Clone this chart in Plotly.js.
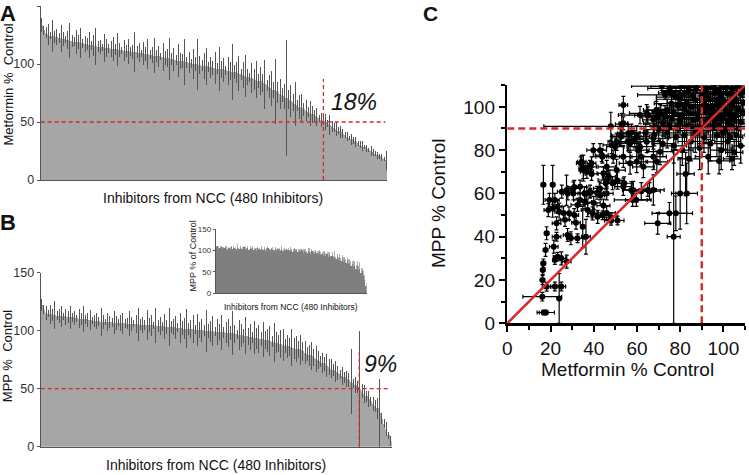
<!DOCTYPE html>
<html>
<head>
<meta charset="utf-8">
<script src="https://cdn.plot.ly/plotly-3.0.1.min.js"></script>
<style>
  html, body { margin: 0; padding: 0; background: #fff; }
  #chart { width: 749px; height: 475px; }
</style>
</head>
<body>
<div id="chart"></div>
<script>
// Panel A: metformin % control, sorted, 160 bars across the 480 inhibitors
const metforminPct = [
  134,129,127,125.5,124.5,124,123.5,123,122.5,122,
  121.5,121,120.6,120.2,119.8,119.4,119,118.6,118.2,117.8,
  117.4,117,116.6,116.2,115.8,115.4,115,114.7,114.4,114.1,
  113.8,113.5,113.2,112.9,112.6,112.3,112,111.7,111.4,111.1,
  110.9,110.7,110.6,110.5,110.1,109.8,109.4,109.0,108.7,108.3,
  107.9,107.6,107.2,106.8,106.5,106.1,105.7,105.4,105.0,104.6,
  104.2,103.8,103.4,103.0,102.6,102.2,101.8,101.4,101.0,100.6,
  100.2,99.8,99.4,99.0,98.6,98.2,97.9,97.5,97.1,96.8,
  96.4,96.0,95.6,95.3,94.9,94.5,94.1,93.8,93.4,93.0,
  92.3,91.7,91.0,90.3,89.7,89.0,88.3,87.7,87.0,86.3,
  85.7,85.0,83.8,82.6,81.5,80.3,79.1,77.9,76.7,75.5,
  74.4,73.2,72.0,70.7,69.4,68.1,66.9,65.6,64.3,63.0,
  61.9,60.8,59.7,58.6,57.5,56.5,55.4,54.3,53.2,52.1,
  51.0,49.8,48.6,47.4,46.2,45.0,43.8,42.5,41.3,40.0,
  38.8,37.5,36.3,35.0,33.9,32.8,31.6,30.5,29.4,28.3,
  27.1,26.0,24.9,23.8,22.6,21.5,20.4,19.3,18.1,17.0
];
const metforminErr = [
  6,4,5,9,3,14,5,7,4,12,6,3,8,15,5,4,10,6,13,4,
  7,5,11,4,9,16,5,6,3,12,8,4,7,10,5,14,6,3,9,5,
  11,4,6,17,5,8,3,10,6,13,4,7,15,5,9,3,12,6,8,18,
  5,10,4,14,7,6,20,5,9,4,13,6,22,8,5,11,16,4,9,6,
  14,5,19,7,10,4,12,8,24,6,9,15,5,11,18,7,4,13,9,16,
  6,12,8,21,5,10,15,7,28,9,13,6,11,50,8,14,7,19,5,10,
  12,6,9,4,11,7,5,8,3,6,4,7,3,9,5,4,6,3,5,4,
  3,4,2,5,3,4,2,3,4,2,3,2,4,3,2,3,2,3,2,8
];

// Panel B: MPP % control, sorted
const mppPct = [
  122,118,115.5,114.5,114,113.6,113.3,113,112.7,112.5,
  112.3,112.1,111.9,111.6,111.4,111.1,110.8,110.5,110.3,110.0,
  109.7,109.4,109.2,108.9,108.6,108.3,108.1,107.8,107.7,107.5,
  107.4,107.3,107.1,107.0,106.9,106.7,106.6,106.5,106.3,106.2,
  106.1,105.9,105.8,105.6,105.5,105.3,105.2,105.0,104.8,104.7,
  104.5,104.4,104.2,104.0,103.9,103.7,103.6,103.4,103.2,103.0,
  102.9,102.7,102.5,102.3,102.1,101.9,101.7,101.5,101.4,101.2,
  101.0,100.8,100.6,100.4,100.2,100.0,99.8,99.6,99.4,99.3,
  99.1,98.9,98.7,98.5,98.3,98.1,97.9,97.7,97.3,96.9,
  96.6,96.2,95.8,95.5,95.1,94.7,94.3,94.0,93.6,93.2,
  92.9,92.5,92.1,91.8,91.2,90.6,90.0,89.5,88.9,88.3,
  87.8,87.2,86.6,86.0,85.5,84.9,84.3,83.8,83.2,82.1,
  81.1,80.0,78.9,77.9,76.8,75.7,74.7,73.5,72.2,71.0,
  69.7,68.5,67.3,66.0,64.8,63.5,62.3,61.0,59.8,58.5,
  57.3,56.0,54.5,53.0,51.5,50.0,47.8,45.6,43.4,41.3,
  39.2,37.1,35.0,33.0,28.7,24.3,20.0,15.0,10.0,5.0
];
const mppErr = [
  5,4,6,3,8,5,12,4,6,9,3,7,5,10,4,6,3,8,5,11,
  4,6,9,3,5,7,4,12,6,3,8,5,4,10,6,3,7,9,4,5,
  11,6,3,8,14,5,7,4,13,6,9,3,15,5,8,4,11,6,16,5,
  7,10,4,13,6,9,17,5,8,12,4,14,7,10,5,18,6,9,13,4,
  11,7,15,5,9,12,6,19,8,4,13,10,6,16,7,11,5,14,9,12,
  6,15,8,10,13,5,17,9,7,12,14,6,10,8,16,9,11,7,13,8,
  10,6,9,12,7,11,8,5,9,6,10,7,8,5,9,6,4,8,5,7,
  6,28,4,7,5,50,6,8,5,7,4,6,5,9,30,5,4,6,3,4
];

// Inset: MPP % of control in metformin order
const insetPct = [
  108,110,104,107,109,103,106,108,105,102,107,104,109,103,106,105,101,107,104,106,
  103,105,108,102,104,106,101,105,103,107,102,104,100,106,103,101,105,102,104,100,
  103,106,101,99,104,102,100,105,98,103,101,99,104,100,102,98,103,101,99,102,
  100,97,103,99,101,96,100,98,102,95,99,97,94,100,96,93,98,95,92,97,
  94,91,96,90,93,88,92,87,91,85,89,84,88,82,86,80,84,78,82,76,
  80,74,78,71,75,68,72,65,69,62,66,58,63,54,58,48,52,40,32,18
];
const insetErr = [
  4,2,6,3,1,5,2,4,7,3,2,5,3,1,6,4,2,8,3,5,
  1,4,2,6,3,5,2,7,4,3,5,2,6,3,4,1,7,3,5,2,
  4,6,2,5,3,7,2,4,6,3,5,2,8,3,4,6,2,5,3,7,
  4,6,3,5,2,8,4,6,3,9,5,7,4,6,10,3,7,5,8,4,
  6,9,5,7,4,10,6,8,5,11,7,4,9,6,12,5,8,7,10,6,
  9,12,7,10,8,13,9,11,7,14,10,8,12,9,15,11,8,13,10,6
];

// Panel C: metformin vs MPP (% control) with SEM in both directions
const cX = [
  17.8,16.8,16.2,18.2,22,25,24,16.3,16.4,16.7,
  22,23.3,25,17.7,21.5,22.8,18.2,22.8,19,19.5,
  23.3,24,16.7,21,21,22,26,26.7,27.4,28,
  30.6,33.7,36,36.8,38.4,40,41.5,43,44.5,46,
  48,51,27.9,29.4,32.5,34.9,31,28.6,32.5,31,
  31.8,37.2,39.5,41.8,44.1,48,35.7,45.6,48.7,54.1,
  58,65,69.6,75,77,78,80,36.4,27.5,53.7,
  47.9,53.7,39.8,42.9,43.7,34.4,35.2,38.3,39,46,
  48.3,50.6,52.2,56.8,56,59.9,61.4,64.5,67.6,64.5,
  69.2,70.7,61.4,67.6,70.7,56.8,59.9,63,69.2,53.7,
  50.6,46,53.7,58.3,67.6,33.7,30.6,25.2,38.3,42.9,
  46,57.4,59.7,62,65.8,71.5,73,77,75.5,65,
  67.6,69,56,57.5,59,60.6,62,64,44,49,
  50,52.6,51,44.5,47,39,36.8,35.2,34,53,
  83,82.5,
  75,80.5,84,87.5,92,95.5,98,101.5,104,106.5,109,
  78,82,86,90,93,96,99,102,105,108,
  76,80,83,87,91,94,97,100,103,106,109,
  74,79,82,85,89,92,95,98,101,104,107,
  73,77,81,84,88,91,94,97,100,103,106,109,
  72,76,80,86,90,93,96,99,102,105,108,
  70,75,79,83,88,92,95,98,101,104,107,
  68,74,78,82,87,91,97,100,103,106,
  72,77,81,85,89,94,99,102,105,108,
  84,93,98,104
];
const cY = [
  5,5,12.3,16.9,17,17,11.5,20,24.6,27.7,
  29.2,30.8,30,33.9,35.4,40,41.6,46.2,52.3,57,
  53.9,51.5,64,64,53,57,51,47.8,61.5,60,
  60,57,56,60,60.3,55.6,60.3,59,54.4,51,
  49,47.5,40.8,39.3,39.3,44.6,63,50.8,54.7,50,
  46.5,52.3,50.8,49.2,49.9,47.4,60,64.7,64.7,64.7,
  57,61.6,46.2,50.8,40,50.8,60,40,28.5,100.8,
  91,92.4,80,80,77.7,74.6,70.8,72.3,73.9,72.3,
  82.4,83.9,87,83.1,87.8,86.2,81.6,83.9,85.5,97,
  95.4,97,96.2,77,79.3,73.9,74.6,72.3,74.6,77,
  70.8,66.2,63.1,61.6,61.6,63.1,62.3,60.8,60.8,62.3,
  60,61.5,57,61,61,109.6,105.5,105.5,107,96,
  94,98.5,83.8,88,85,80,77,88,77,77,
  81.6,86.2,66,69.3,67.7,69,70,71.7,73.9,92,
  60,69,
  108.5,109.5,107.5,109,108,110,107,109,108.5,109.5,107.5,
  104.5,106.5,105,106,104,106.5,105.5,106,104.5,106,
  101.5,103.5,102,103,101,103.5,102.5,103,101.5,103,102,
  98.5,100.5,99,100,98,100.5,99.5,100,98.5,100.5,99,
  95.5,97.5,96,97,95,97.5,96.5,97,95.5,97.5,96,97,
  92.5,94.5,93,94,92,94.5,93.5,94,92.5,94,93,
  89.5,91.5,90,91,89,91.5,90.5,91,89.5,91,90,
  87,88,86,87,88,86,87,88,86,87,
  83,82,80,84,81,83,80,84,79,82,
  76,77,75,76
];
const cXErr = [
  4,2,9,2,2,2,0,1,1,1,
  1,2,2,1,2,2,1,2,2,2,
  2,2,1,1,1,2,2,2,2,2,
  3,3,3,2,3,3,3,2,3,4,
  3,3,2,2,3,1,3,2,3,2,
  2,3,2,3,3,3,3,3,4,4,
  8.5,4,6,8,3,7.7,4,2,2,2,
  31,2,3,3,3,2,2,3,2,4,
  4,4,4,5,5,6,6,6,7,8,
  7,6,10,6,6,5,5,5,5,4,
  4,4,4,5,5,3,3,2,3,3,
  3,4,5,5,5,14,12.7,4,4,6,
  5,6,4,4,4,5,5,6,3,3,
  4,4,3,3,3,3,3,2,2,3,
  5,4,
  10,14,8,12,9,13,7,11,9,8,6,
  9,12,8,14,7,10,9,8,11,6,
  8,11,9,7,12,10,8,11,9,7,5,
  9,8,12,10,7,13,9,8,10,8,5,
  7,10,8,11,9,7,12,9,8,10,7,5,
  9,7,11,9,8,12,9,7,10,8,5,
  7,9,8,11,9,7,10,9,7,9,5,
  5,6,5,7,6,5,6,5,6,4,
  5,6,5,6,5,6,5,6,4,4,
  5,6,5,4
];
const cYErr = [
  1,1,2,2,2,2,11.5,2,2,2,
  2,2,3,3,3,2,3,3,3,3,
  3,4,9,9,4,3,3,3,7,3,
  3,3,3,3,2,3,3,2,3,3,
  2,2,3,3,2,9.6,3,3,3,3,
  3,3,3,3,2,2,3,3,3,3,
  3,3,5,5,40,8,16.5,8,3,4,
  6.5,3,3,3,3,3,4,3,3,3,
  4,4,3,4,4,5,5,5,5,4,
  4,4,4,6,6,5,5,5,5,5,
  5,4,4,4,7,3,3,3,3,3,
  3,4,3,4,4,2,2,2,2,4,
  4,4,4,4,4,4,4,4,3,3,
  4,4,4,3,3,3,3,6,3,5,
  14,10,
  2,2,3,2,3,2,3,2,3,2,3,
  4,3,4,3,5,3,4,3,5,3,
  4,5,4,6,4,5,4,6,4,5,4,
  5,4,6,5,7,4,6,5,4,6,5,
  5,4,6,5,8,4,6,5,7,4,6,5,
  6,5,4,7,5,6,4,8,5,6,7,
  5,6,4,7,5,8,6,5,9,6,8,
  5,7,6,5,9,7,10,8,9,10,
  6,8,7,9,10,8,9,7,6,8,
  7,8,6,5
];

const FONT = 'Liberation Sans, Arial, sans-serif';
const RED = '#d42a2a';
const px = x => x / 749;
const py = y => 1 - y / 475;

const traces = [
  {
    type: 'bar', x: metforminPct.map((_, i) => i), y: metforminPct,
    xaxis: 'x', yaxis: 'y',
    marker: { color: '#a6a6a6', line: { width: 0 } },
    error_y: { type: 'data', array: metforminErr, color: '#555', thickness: 1, width: 0 }
  },
  {
    type: 'bar', x: mppPct.map((_, i) => i), y: mppPct,
    xaxis: 'x2', yaxis: 'y2',
    marker: { color: '#a6a6a6', line: { width: 0 } },
    error_y: { type: 'data', array: mppErr, color: '#555', thickness: 1, width: 0 }
  },
  {
    type: 'bar', x: insetPct.map((_, i) => i), y: insetPct,
    xaxis: 'x3', yaxis: 'y3',
    marker: { color: '#7f7f7f', line: { width: 0 } },
    error_y: { type: 'data', symmetric: false, array: insetErr, arrayminus: insetErr.map(() => 0),
               color: '#b0b0b0', thickness: 1, width: 0 }
  },
  {
    type: 'scatter', mode: 'markers', x: cX, y: cY,
    xaxis: 'x4', yaxis: 'y4',
    marker: { color: '#000', size: 6 },
    error_x: { type: 'data', array: cXErr, color: '#000', thickness: 1.2, width: 2 },
    error_y: { type: 'data', array: cYErr, color: '#000', thickness: 1.2, width: 2 }
  }
];

const barX = (dom, n, anchor) => ({
  domain: dom, range: [-0.5, n - 0.5], anchor: anchor,
  showline: true, linecolor: '#555', linewidth: 1,
  showticklabels: false, ticks: '', showgrid: false, zeroline: false
});
const barY = (dom, anchor, fs, tl) => ({
  domain: dom, range: [0, 150], anchor: anchor,
  tickvals: [0, 50, 100, 150], ticks: 'outside', ticklen: tl, tickcolor: '#555',
  showline: true, linecolor: '#555', linewidth: 1,
  tickfont: { family: FONT, size: fs, color: '#333' },
  showgrid: false, zeroline: false
});

const dashA = { color: RED, width: 1.3, dash: '4px,3px' };
const dashC = { color: RED, width: 2.5, dash: '7px,4px' };

const layout = {
  width: 749, height: 475,
  margin: { l: 0, r: 0, t: 0, b: 0 },
  paper_bgcolor: '#fff', plot_bgcolor: 'rgba(0,0,0,0)',
  showlegend: false, bargap: 0,
  font: { family: FONT, color: '#222' },
  xaxis: barX([px(40.7), px(387.3)], metforminPct.length, 'y'),
  yaxis: barY([py(180), py(6)], 'x', 12.5, 3),
  xaxis2: barX([px(40.7), px(391.7)], mppPct.length, 'y2'),
  yaxis2: barY([py(446.7), py(272.7)], 'x2', 12.5, 3),
  xaxis3: barX([px(215.7), px(366.7)], insetPct.length, 'y3'),
  yaxis3: barY([py(293.3), py(229.3)], 'x3', 8, 2),
  xaxis4: {
    domain: [px(507.3), px(745)], range: [0, 110], anchor: 'y4',
    tickmode: 'linear', tick0: 0, dtick: 20,
    ticks: 'outside', ticklen: 6, tickwidth: 2, tickcolor: '#000',
    minor: { dtick: 10, ticks: 'outside', ticklen: 4, tickwidth: 2, tickcolor: '#000' },
    showline: true, linecolor: '#000', linewidth: 2.5,
    tickfont: { family: FONT, size: 19, color: '#111' },
    showgrid: false, zeroline: false
  },
  yaxis4: {
    domain: [py(323.3), py(85.2)], range: [0, 110], anchor: 'x4',
    tickmode: 'linear', tick0: 0, dtick: 20,
    ticks: 'outside', ticklen: 6, tickwidth: 2, tickcolor: '#000',
    minor: { dtick: 10, ticks: 'outside', ticklen: 4, tickwidth: 2, tickcolor: '#000' },
    showline: true, linecolor: '#000', linewidth: 2.5,
    tickfont: { family: FONT, size: 19, color: '#111' },
    showgrid: false, zeroline: false
  },
  shapes: [
    { type: 'line', xref: 'x', yref: 'y', x0: -0.5, x1: 158.6, y0: 50, y1: 50, line: dashA },
    { type: 'line', xref: 'x', yref: 'y', x0: 130, x1: 130, y0: 0, y1: 87, line: dashA },
    { type: 'line', xref: 'x2', yref: 'y2', x0: -0.5, x1: 158.3, y0: 50, y1: 50, line: dashA },
    { type: 'line', xref: 'x2', yref: 'y2', x0: 144.7, x1: 144.7, y0: 0, y1: 85, line: dashA },
    { type: 'line', xref: 'x4', yref: 'y4', x0: 0, x1: 110, y0: 0, y1: 110, line: { color: RED, width: 2.5 } },
    { type: 'line', xref: 'x4', yref: 'y4', x0: 90, x1: 90, y0: 0, y1: 110, line: dashC },
    { type: 'line', xref: 'x4', yref: 'y4', x0: 0, x1: 110, y0: 90, y1: 90, line: dashC }
  ],
  annotations: [
    { text: '<b>A</b>', x: px(7.5), y: py(13), size: 22 },
    { text: '<b>B</b>', x: px(7.5), y: py(222), size: 22 },
    { text: '<b>C</b>', x: px(430.5), y: py(13), size: 21 },
    { text: '<i>18%</i>', x: px(353.5), y: py(101.5), size: 23 },
    { text: '<i>9%</i>', x: px(380), y: py(363.5), size: 23 },
    { text: 'Inhibitors from NCC (480 Inhibitors)', x: px(213.3), y: py(198), size: 14 },
    { text: 'Inhibitors from NCC (480 Inhibitors)', x: px(215.8), y: py(465), size: 14 },
    { text: 'Inhibitors from NCC (480 Inhibitors)', x: px(291), y: py(307), size: 8.5 },
    { text: 'Metformin % \u00a0Control', x: px(7.5), y: py(85), size: 13, angle: -90 },
    { text: 'MPP % \u00a0Control', x: px(7.5), y: py(356.7), size: 13, angle: -90 },
    { text: 'MPP % of Control', x: px(192.5), y: py(256), size: 9, angle: -90 },
    { text: 'MPP % Control', x: px(438), y: py(203), size: 19, angle: -90 },
    { text: 'Metformin % Control', x: px(627), y: py(369), size: 19 }
  ].map(a => ({
    text: a.text, x: a.x, y: a.y, xref: 'paper', yref: 'paper',
    xanchor: 'center', yanchor: 'middle', showarrow: false, textangle: a.angle || 0,
    font: { family: FONT, size: a.size, color: '#111' }
  }))
};

Plotly.newPlot('chart', traces, layout, { staticPlot: true, displayModeBar: false });
</script>
</body>
</html>
